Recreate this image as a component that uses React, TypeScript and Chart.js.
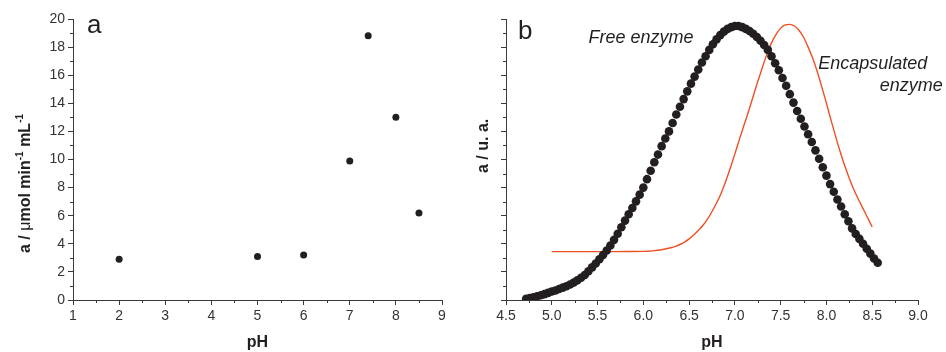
import React, { useEffect, useRef } from 'react';
import { Chart, registerables } from 'chart.js';

Chart.register(...registerables);

const FONT = '"Liberation Sans", Arial, Helvetica, sans-serif';
const INK = '#231f20';
const AXIS = '#3a3a3a';
const LABEL = '#333333';
const ORANGE = '#ef5023';

// ---- Panel a: measured activity vs pH ----
const phA = [2, 5, 6, 7, 7.4, 8, 8.5];
const activityA = [2.9, 3.1, 3.2, 9.9, 18.8, 13.0, 6.2];

// ---- Panel b: free enzyme (dotted) ----
const freePH = [
  4.72, 4.76, 4.8, 4.84, 4.88, 4.92, 4.96, 5.0, 5.04, 5.08, 5.12, 5.16, 5.2, 5.24, 5.28, 5.32,
  5.36, 5.4, 5.44, 5.48, 5.52, 5.56, 5.6, 5.64, 5.68, 5.72, 5.76, 5.8, 5.84, 5.88, 5.92, 5.96,
  6.0, 6.04, 6.08, 6.12, 6.16, 6.2, 6.24, 6.28, 6.32, 6.36, 6.4, 6.44, 6.48, 6.52, 6.56, 6.6,
  6.64, 6.68, 6.72, 6.76, 6.8, 6.84, 6.88, 6.92, 6.96, 7.0, 7.04, 7.08, 7.12, 7.16, 7.2, 7.24,
  7.28, 7.32, 7.36, 7.4, 7.44, 7.48, 7.52, 7.56, 7.6, 7.64, 7.68, 7.72, 7.76, 7.8, 7.84, 7.88,
  7.92, 7.96, 8.0, 8.04, 8.08, 8.12, 8.16, 8.2, 8.24, 8.28, 8.32, 8.36, 8.4, 8.44, 8.48, 8.52,
  8.56,
];
const freeActivity = [
  0.08, 0.14, 0.2, 0.27, 0.34, 0.42, 0.51, 0.6, 0.68, 0.78, 0.88, 0.98, 1.1, 1.24, 1.4, 1.58,
  1.78, 2.05, 2.32, 2.6, 2.9, 3.2, 3.52, 3.88, 4.28, 4.72, 5.18, 5.65, 6.1, 6.55, 7.02, 7.5,
  8.0, 8.6, 9.2, 9.8, 10.35, 10.95, 11.5, 12.0, 12.6, 13.2, 13.75, 14.3, 14.85, 15.4, 15.9, 16.4,
  16.9, 17.35, 17.8, 18.2, 18.55, 18.85, 19.1, 19.3, 19.42, 19.5, 19.5, 19.42, 19.3, 19.15, 18.95, 18.72,
  18.45, 18.15, 17.8, 17.35, 16.85, 16.35, 15.8, 15.25, 14.65, 14.05, 13.45, 12.9, 12.35, 11.8, 11.25, 10.65,
  10.05, 9.45, 8.85, 8.25, 7.7, 7.15, 6.65, 6.1, 5.6, 5.1, 4.7, 4.35, 4.0, 3.65, 3.3, 2.95,
  2.65,
];

// ---- Panel b: encapsulated enzyme (line) ----
const encPH = [
  5.0, 5.2, 5.4, 5.6, 5.8, 6.0, 6.1, 6.2, 6.3, 6.35, 6.4, 6.45, 6.5, 6.55, 6.6, 6.65, 6.7, 6.75,
  6.8, 6.85, 6.9, 6.95, 7.0, 7.05, 7.1, 7.15, 7.2, 7.25, 7.3, 7.35, 7.4, 7.45, 7.5, 7.55, 7.6,
  7.65, 7.7, 7.75, 7.8, 7.85, 7.9, 7.95, 8.0, 8.05, 8.1, 8.15, 8.2, 8.25, 8.3, 8.35, 8.4, 8.45, 8.5,
];
const encActivity = [
  3.44, 3.44, 3.44, 3.44, 3.45, 3.46, 3.5, 3.58, 3.72, 3.82, 3.95, 4.12, 4.35, 4.62, 4.95, 5.3, 5.75, 6.3,
  6.9, 7.6, 8.45, 9.4, 10.4, 11.45, 12.45, 13.45, 14.5, 15.55, 16.55, 17.5, 18.3, 18.9, 19.35, 19.58, 19.62,
  19.5, 19.2, 18.7, 18.0, 17.2, 16.25, 15.15, 14.0, 12.8, 11.65, 10.55, 9.55, 8.65, 7.85, 7.15, 6.5, 5.85, 5.2,
];

const yTitleA = [
  { t: 'a / ', bold: true },
  { t: '\u03bc', bold: false },
  { t: 'mol min', bold: true },
  { t: '-1', bold: true, sup: true },
  { t: ' mL', bold: true },
  { t: '-1', bold: true, sup: true },
];
const yTitleB = [{ t: 'a / u. a.', bold: true }];

const minorTicksPlugin = {
  id: 'minorTicks',
  afterDraw(chart: any, _args: any, opts: any) {
    const { ctx } = chart;
    const xs = chart.scales.x;
    const ys = chart.scales.y;
    ctx.save();
    ctx.strokeStyle = AXIS;
    ctx.lineWidth = 1;
    ctx.beginPath();
    for (let v = xs.min + opts.xMinor; v < xs.max + 1e-9; v += opts.xMajor) {
      const px = Math.round(xs.getPixelForValue(v)) + 0.5;
      ctx.moveTo(px, ys.bottom);
      ctx.lineTo(px, ys.bottom + 3);
    }
    for (let v = ys.min + opts.yMinor; v < ys.max + 1e-9; v += opts.yMajor) {
      const py = Math.round(ys.getPixelForValue(v)) + 0.5;
      ctx.moveTo(xs.left, py);
      ctx.lineTo(xs.left - 3, py);
    }
    ctx.stroke();
    ctx.restore();
  },
};

const textPlugin = {
  id: 'panelText',
  afterDraw(chart: any, _args: any, opts: any) {
    const { ctx, chartArea } = chart;
    const xs = chart.scales.x;
    const ys = chart.scales.y;
    ctx.save();
    ctx.fillStyle = INK;
    ctx.font = `26px ${FONT}`;
    ctx.textBaseline = 'alphabetic';
    ctx.textAlign = 'left';
    ctx.fillText(opts.letter, chartArea.left + opts.letterDx, chartArea.top + opts.letterDy);
    ctx.font = `italic 18px ${FONT}`;
    for (const a of opts.notes || []) {
      ctx.textAlign = a.align;
      ctx.fillText(a.text, xs.getPixelForValue(a.x), ys.getPixelForValue(a.y));
    }
    ctx.translate(opts.titleX, opts.titleY);
    ctx.rotate(-Math.PI / 2);
    ctx.textAlign = 'left';
    let cx = 0;
    for (const p of opts.title) {
      ctx.font = `${p.bold ? 'bold ' : ''}${p.sup ? 10 : 16}px ${FONT}`;
      ctx.fillStyle = INK;
      ctx.fillText(p.t, cx, p.sup ? -7 : 0);
      cx += ctx.measureText(p.t).width;
    }
    ctx.restore();
  },
};

function axisCommon(extra: any) {
  return {
    type: 'linear',
    grid: { drawOnChartArea: false, drawTicks: true, tickLength: 5, color: AXIS, lineWidth: 1 },
    border: { display: true, color: AXIS, width: 1 },
    ...extra,
  };
}

function makeConfigA() {
  return {
    type: 'scatter',
    data: {
      datasets: [
        {
          data: phA.map((x, i) => ({ x, y: activityA[i] })),
          pointRadius: 3.5,
          pointBackgroundColor: INK,
          pointBorderColor: INK,
          pointBorderWidth: 0,
        },
      ],
    },
    options: {
      animation: false,
      responsive: false,
      maintainAspectRatio: false,
      layout: { padding: { top: 19, right: 28, left: 0, bottom: 0 } },
      plugins: {
        legend: { display: false },
        tooltip: { enabled: false },
        minorTicks: { xMinor: 0.5, xMajor: 1, yMinor: 1, yMajor: 2 },
        panelText: {
          letter: 'a',
          letterDx: 14,
          letterDy: 14,
          notes: [],
          title: yTitleA,
          titleX: 30,
          titleY: 253,
        },
      },
      scales: {
        x: axisCommon({
          min: 1,
          max: 9,
          ticks: { stepSize: 1, color: LABEL, font: { family: FONT, size: 14 }, padding: 3, maxRotation: 0 },
          title: { display: true, text: 'pH', color: INK, font: { family: FONT, size: 16, weight: 'bold' }, padding: { top: 0, bottom: 0 } },
          afterFit: (s: any) => { s.height = 52; },
        }),
        y: axisCommon({
          min: 0,
          max: 20,
          ticks: { stepSize: 2, color: LABEL, font: { family: FONT, size: 14 }, padding: 3 },
          afterFit: (s: any) => { s.width = 73; },
        }),
      },
    },
    plugins: [minorTicksPlugin, textPlugin],
  };
}

function makeConfigB() {
  return {
    type: 'scatter',
    data: {
      datasets: [
        {
          data: freePH.map((x, i) => ({ x, y: freeActivity[i] })),
          pointRadius: 4.3,
          pointBackgroundColor: INK,
          pointBorderColor: INK,
          pointBorderWidth: 0,
        },
        {
          type: 'line',
          data: encPH.map((x, i) => ({ x, y: encActivity[i] })),
          showLine: true,
          borderColor: ORANGE,
          borderWidth: 1.4,
          pointRadius: 0,
          cubicInterpolationMode: 'monotone',
          fill: false,
        },
      ],
    },
    options: {
      animation: false,
      responsive: false,
      maintainAspectRatio: false,
      layout: { padding: { top: 19, right: 28, left: 0, bottom: 0 } },
      plugins: {
        legend: { display: false },
        tooltip: { enabled: false },
        minorTicks: { xMinor: 0.25, xMajor: 0.5, yMinor: 1, yMajor: 2 },
        panelText: {
          letter: 'b',
          letterDx: 12,
          letterDy: 20,
          notes: [
            { text: 'Free enzyme', x: 5.4, y: 18.3, align: 'left' },
            { text: 'Encapsulated', x: 7.91, y: 16.45, align: 'left' },
            { text: 'enzyme', x: 9.27, y: 14.9, align: 'right' },
          ],
          title: yTitleB,
          titleX: 18,
          titleY: 173,
        },
      },
      scales: {
        x: axisCommon({
          min: 4.5,
          max: 9,
          ticks: {
            stepSize: 0.5,
            color: LABEL,
            font: { family: FONT, size: 14 },
            padding: 3,
            maxRotation: 0,
            callback: (v: any) => Number(v).toFixed(1),
          },
          title: { display: true, text: 'pH', color: INK, font: { family: FONT, size: 16, weight: 'bold' }, padding: { top: 8, bottom: 0 } },
          afterFit: (s: any) => { s.height = 52; },
        }),
        y: axisCommon({
          min: 0,
          max: 20,
          ticks: { stepSize: 2, callback: () => '' },
          afterFit: (s: any) => { s.width = 36; },
        }),
      },
    },
    plugins: [minorTicksPlugin, textPlugin],
  };
}

function Panel({ width, height, makeConfig }: { width: number; height: number; makeConfig: () => any }) {
  const ref = useRef<HTMLCanvasElement | null>(null);
  useEffect(() => {
    if (!ref.current) return;
    const chart = new Chart(ref.current, makeConfig());
    return () => chart.destroy();
  }, [makeConfig]);
  return <canvas ref={ref} width={width} height={height} style={{ display: 'block', width, height }} />;
}

export default function App() {
  return (
    <div style={{ position: 'fixed', left: 0, top: 0, width: 946, height: 352, background: '#fff', display: 'flex' }}>
      <Panel width={470} height={352} makeConfig={makeConfigA} />
      <Panel width={476} height={352} makeConfig={makeConfigB} />
    </div>
  );
}
